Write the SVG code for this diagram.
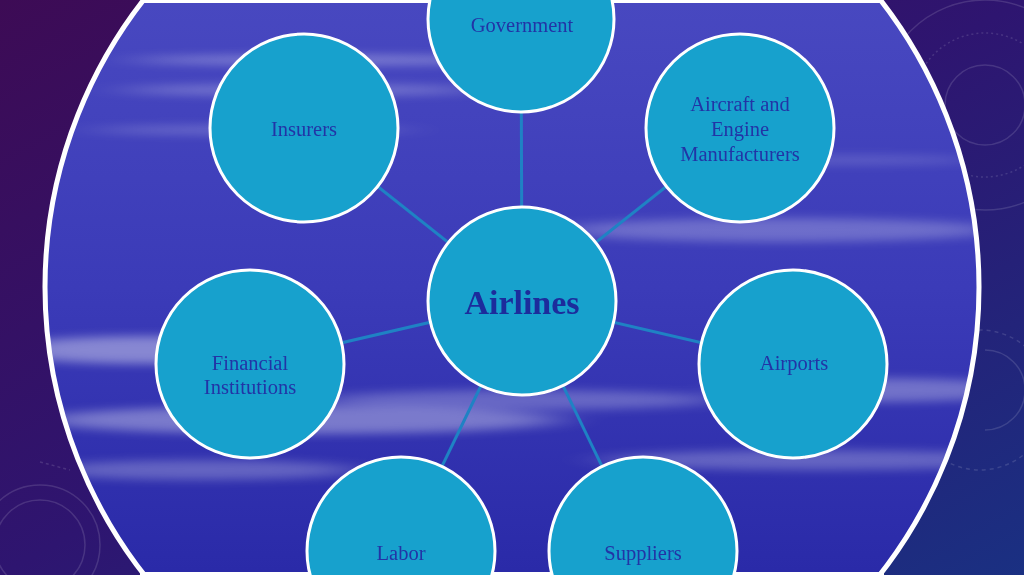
<svg xmlns="http://www.w3.org/2000/svg" width="1024" height="575" viewBox="0 0 1024 575">
  <style>
    .node circle { fill: #17a1cd; stroke: #ffffff; stroke-width: 3; }
    .node text { font-family: "Liberation Serif", "Times New Roman", serif; font-size: 20.5px; fill: #2234a6; text-anchor: middle; }
    .node text.main { font-size: 34px; font-weight: bold; fill: #1c2c9c; }
    .conn line { stroke: #1f82c4; stroke-width: 3; }
    .deco { fill: none; stroke: #ffffff; stroke-opacity: 0.13; stroke-width: 1.5; }
  </style>
  <defs>
    <linearGradient id="bg" x1="0" y1="0" x2="1" y2="1">
      <stop offset="0" stop-color="#3d0b55"/>
      <stop offset="0.5" stop-color="#2e1570"/>
      <stop offset="1" stop-color="#1a3082"/>
    </linearGradient>
    <linearGradient id="sky" x1="0" y1="0" x2="0" y2="1">
      <stop offset="0" stop-color="#4848c0"/>
      <stop offset="0.5" stop-color="#3b3bb8"/>
      <stop offset="1" stop-color="#2a2aa8"/>
    </linearGradient>
    <clipPath id="clip">
      <circle cx="512" cy="287" r="467"/>
    </clipPath>
    <filter id="blur" x="-30%" y="-300%" width="160%" height="700%">
      <feGaussianBlur stdDeviation="25 5"/>
    </filter>
  </defs>

  <rect width="1024" height="575" fill="url(#bg)"/>
  <g class="deco">
    <circle cx="985" cy="105" r="40"/>
    <circle cx="985" cy="105" r="72" stroke-dasharray="2 3"/>
    <circle cx="985" cy="105" r="105"/>
    <path d="M985 350 a 40 40 0 0 1 0 80"/>
    <circle cx="980" cy="400" r="70" stroke-dasharray="4 4"/>
    <circle cx="40" cy="545" r="45"/>
    <circle cx="40" cy="545" r="60"/>
    <path d="M40 462 l 30 8" stroke-dasharray="3 3"/>
  </g>

  <g clip-path="url(#clip)">
    <rect x="40" y="2" width="944" height="570" fill="url(#sky)"/>
    <g fill="#ffffff" filter="url(#blur)">
      <ellipse cx="330" cy="60" rx="200" ry="5" opacity="0.3"/>
      <ellipse cx="300" cy="90" rx="180" ry="6" opacity="0.25"/>
      <ellipse cx="250" cy="130" rx="160" ry="5" opacity="0.2"/>
      <ellipse cx="780" cy="230" rx="220" ry="12" opacity="0.25"/>
      <ellipse cx="850" cy="160" rx="130" ry="5" opacity="0.15"/>
      <ellipse cx="150" cy="350" rx="150" ry="14" opacity="0.4"/>
      <ellipse cx="300" cy="420" rx="260" ry="14" opacity="0.35"/>
      <ellipse cx="520" cy="400" rx="200" ry="10" opacity="0.25"/>
      <ellipse cx="880" cy="390" rx="150" ry="12" opacity="0.3"/>
      <ellipse cx="820" cy="460" rx="220" ry="10" opacity="0.25"/>
      <ellipse cx="200" cy="470" rx="160" ry="10" opacity="0.25"/>
    </g>
  </g>
  <circle cx="512" cy="287" r="467" fill="none" stroke="#ffffff" stroke-width="5"/>
  <line x1="143" y1="1.5" x2="882" y2="1.5" stroke="#ffffff" stroke-width="3"/>
  <line x1="140" y1="573.5" x2="884" y2="573.5" stroke="#ffffff" stroke-width="3"/>

  <g class="conn">
    <line x1="522" y1="301" x2="521" y2="20"/>
    <line x1="522" y1="301" x2="304" y2="128"/>
    <line x1="522" y1="301" x2="740" y2="128"/>
    <line x1="522" y1="301" x2="250" y2="364"/>
    <line x1="522" y1="301" x2="793" y2="364"/>
    <line x1="522" y1="301" x2="401" y2="551"/>
    <line x1="522" y1="301" x2="643" y2="551"/>
  </g>

  <g id="government" class="node">
    <circle cx="521" cy="19" r="93"/>
    <text x="522" y="32">Government</text>
  </g>
  <g id="insurers" class="node">
    <circle cx="304" cy="128" r="94"/>
    <text x="304" y="136">Insurers</text>
  </g>
  <g id="aircraft" class="node">
    <circle cx="740" cy="128" r="94"/>
    <text x="740" y="111">Aircraft and</text>
    <text x="740" y="136">Engine</text>
    <text x="740" y="161">Manufacturers</text>
  </g>
  <g id="airlines" class="node">
    <circle cx="522" cy="301" r="94"/>
    <text class="main" x="522" y="314">Airlines</text>
  </g>
  <g id="financial" class="node">
    <circle cx="250" cy="364" r="94"/>
    <text x="250" y="370">Financial</text>
    <text x="250" y="394">Institutions</text>
  </g>
  <g id="airports" class="node">
    <circle cx="793" cy="364" r="94"/>
    <text x="794" y="370">Airports</text>
  </g>
  <g id="labor" class="node">
    <circle cx="401" cy="551" r="94"/>
    <text x="401" y="560">Labor</text>
  </g>
  <g id="suppliers" class="node">
    <circle cx="643" cy="551" r="94"/>
    <text x="643" y="560">Suppliers</text>
  </g>
</svg>
